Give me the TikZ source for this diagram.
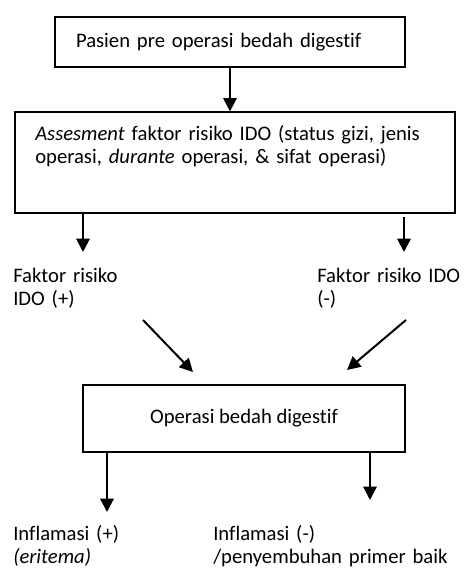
\documentclass[tikz,border=0pt]{standalone}
\usepackage{fontspec}
\setmainfont{Carlito}[Ligatures=NoCommon]
\usetikzlibrary{arrows.meta}

\begin{document}
\begin{tikzpicture}[x=0.75pt, y=-0.75pt, >={Triangle[length=10pt,width=10pt]},
  font=\fontsize{15.5}{17.6}\selectfont,
  box/.style={draw, line width=0.9pt, inner sep=0pt},
  arr/.style={->, line width=1.5pt},
  txt/.style={inner sep=0pt, anchor=base west, align=left}]
  \path[use as bounding box] (0,0) rectangle (473,568);

  % boxes
  \node[box, minimum width=262.5pt, minimum height=37.5pt, text width=231pt, inner xsep=15.75pt, align=left]
    (pasien) at (230,42) {Pasien pre operasi bedah digestif};
  \node[box, minimum width=330pt, minimum height=75.75pt] (assess) at (235,162.5) {};
  \node[txt, text width=320pt] (assesstxt) at (35,140)
    {\emph{Assesment} faktor risiko IDO (status gizi, jenis\\operasi, \emph{durante} operasi, \& sifat operasi)};
  \node[box, minimum width=241.5pt, minimum height=50.25pt] (operasi) at (244,418.5) {Operasi bedah digestif};

  % outcomes
  \node[txt, text width=130pt] (faktorpos) at (13,282) {Faktor risiko\\IDO (+)};
  \node[txt, text width=140pt] (faktorneg) at (317,282) {Faktor risiko IDO\\(-)};
  \node[txt, text width=130pt] (inflpos) at (13,540) {Inflamasi (+)\\\emph{(eritema)}};
  \node[txt, text width=210pt] (inflneg) at (213,540) {Inflamasi (-)\\/penyembuhan primer baik};

  % arrow ends
  \coordinate (tipA) at (83,252);
  \coordinate (tailB) at (404,217);
  \coordinate (tipB) at (404,252);
  \coordinate (tailC) at (143,320);
  \coordinate (tipC) at (193,372);
  \coordinate (tailD) at (406,320);
  \coordinate (tipD) at (347,370);
  \coordinate (tipE) at (107,512);
  \coordinate (tipF) at (370,500);

  \draw[arr] (pasien.south) -- (pasien.south |- assess.north);
  \draw[arr] (assess.south -| tipA) -- (tipA);
  \draw[arr] (tailB) -- (tipB);
  \draw[arr] (tailC) -- (tipC);
  \draw[arr] (tailD) -- (tipD);
  \draw[arr] (operasi.south -| tipE) -- (tipE);
  \draw[arr] (operasi.south -| tipF) -- (tipF);
\end{tikzpicture}
\end{document}
